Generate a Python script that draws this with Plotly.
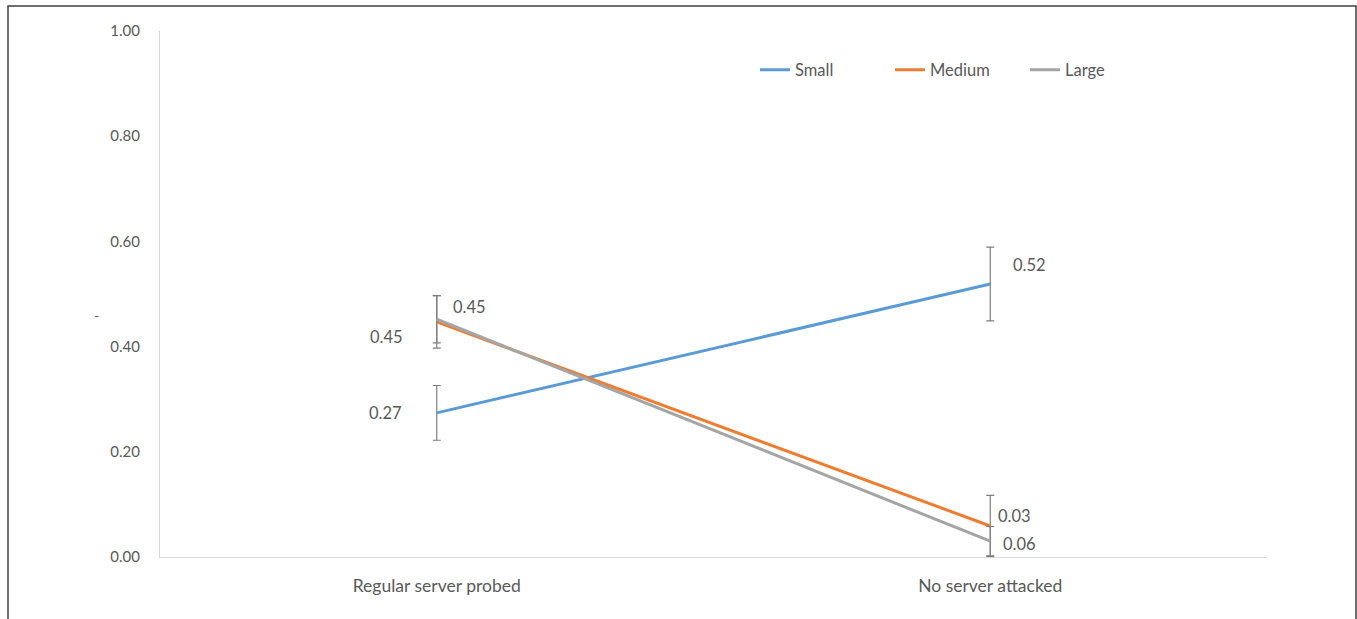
import plotly.graph_objects as go

categories = ["Regular server probed", "No server attacked"]
series_names = ["Small", "Medium", "Large"]
small_vals = [0.274, 0.519]
medium_vals = [0.447, 0.059]
large_vals = [0.452, 0.030]
small_err = [0.052, 0.070]
medium_err = [0.050, 0.058]
large_err = [0.045, 0.028]
small_labels = ["0.27", "0.52"]
medium_labels = ["0.45", "0.03"]
large_labels = ["0.45", "0.06"]
y_ticks = [0.0, 0.2, 0.4, 0.6, 0.8, 1.0]

colors = ["#5B9BD5", "#ED7D31", "#A5A5A5"]
FONT = "Lato, 'Open Sans', sans-serif"
TXT = "#595959"

series = [
    (series_names[0], small_vals, small_err, small_labels, colors[0], [(-51, 0), (39, 19)]),
    (series_names[1], medium_vals, medium_err, medium_labels, colors[1], [(-50, -15), (24, 10)]),
    (series_names[2], large_vals, large_err, large_labels, colors[2], [(33, 12), (29, -3)]),
]

fig = go.Figure()
annotations = []
for name, vals, err, labels, col, shifts in series:
    fig.add_trace(go.Scatter(
        x=[0, 1], y=vals, mode="lines", name=name,
        line=dict(color=col, width=3),
        error_y=dict(type="data", array=err, visible=True, color="#7F7F7F",
                     thickness=1.2, width=4),
        hoverinfo="skip",
    ))
    for i, (v, lab) in enumerate(zip(vals, labels)):
        annotations.append(dict(
            x=i, y=v, xref="x", yref="y", text=lab, showarrow=False,
            xshift=shifts[i][0], yshift=shifts[i][1],
            font=dict(family=FONT, size=16.5, color=TXT),
        ))

annotations.append(dict(x=(92 - 160) / 1107, y=(557 - 315) / 526, xref="paper", yref="paper",
                        text="-", showarrow=False, font=dict(family=FONT, size=14, color=TXT)))

fig.update_layout(
    width=1357, height=619,
    margin=dict(l=160, r=90, t=31, b=62),
    paper_bgcolor="white", plot_bgcolor="white",
    showlegend=True,
    legend=dict(orientation="h", x=(755 - 160) / 1107, xanchor="left",
                y=(557 - 70) / 526, yanchor="middle",
                entrywidth=90, entrywidthmode="pixels",
                font=dict(family=FONT, size=16.5, color=TXT),
                bgcolor="rgba(0,0,0,0)"),
    xaxis=dict(range=[-0.5, 1.5], tickmode="array", tickvals=[0, 1], ticktext=categories,
               showgrid=False, zeroline=False, showline=True, linecolor="#D9D9D9", linewidth=1,
               ticks="", ticklabelstandoff=13,
               tickfont=dict(family=FONT, size=17.5, color=TXT)),
    yaxis=dict(range=[0, 1], tickmode="array", tickvals=y_ticks,
               ticktext=[f"{v:.2f}" for v in y_ticks],
               showgrid=False, zeroline=False, showline=True, linecolor="#D9D9D9", linewidth=1,
               ticks="", ticklabelstandoff=16,
               tickfont=dict(family=FONT, size=15, color=TXT)),
    annotations=annotations,
    shapes=[dict(type="rect", xref="paper", yref="paper",
                 x0=(8 - 160) / 1107, x1=(1356 - 160) / 1107,
                 y0=(557 - 640) / 526, y1=(557 - 6) / 526,
                 line=dict(color="#404040", width=1.5), layer="above")],
)

fig.write_html("out.html")
